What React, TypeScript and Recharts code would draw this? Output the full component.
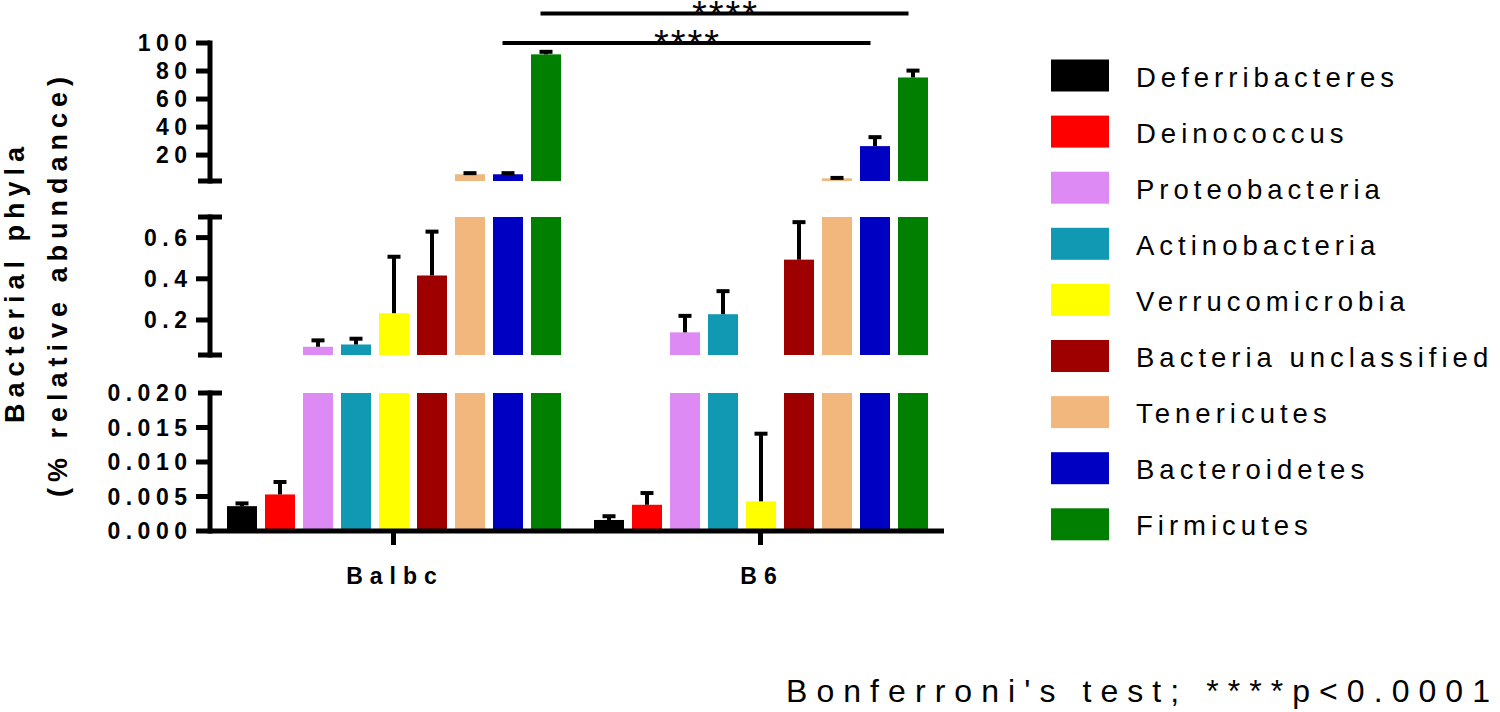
import React from 'react';
import { BarChart, Bar, XAxis, YAxis, ReferenceLine } from 'recharts';

// ---------- data ----------
const groups = ['Balbc', 'B6'];
const phyla = [
  'Deferribacteres',
  'Deinococcus',
  'Proteobacteria',
  'Actinobacteria',
  'Verrucomicrobia',
  'Bacteria unclassified',
  'Tenericutes',
  'Bacteroidetes',
  'Firmicutes',
];
const phylaColors = ['#000000', '#ff0000', '#de8af5', '#1199b3', '#ffff00', '#9e0000', '#f2b77d', '#0000c2', '#007f00'];

const balbcMean = [0.0036, 0.0053, 0.07, 0.081, 0.233, 0.416, 6.3, 6.3, 91.9];
const balbcSD = [0.0004, 0.0018, 0.031, 0.028, 0.274, 0.213, 0.8, 0.8, 1.8];
const b6Mean = [0.0016, 0.0038, 0.14, 0.228, 0.0043, 0.493, 3.4, 26.4, 75.4];
const b6SD = [0.00054, 0.0017, 0.08, 0.112, 0.0098, 0.182, 0.3, 6.4, 4.9];

const topDomain = [1.5, 100];
const topTicks = [1.5, 20, 40, 60, 80, 100];
const topUnlabeled = [1.5];
const topCaps = [1.5];

const midDomain = [0.03, 0.7];
const midTicks = [0.03, 0.2, 0.4, 0.6, 0.7];
const midUnlabeled = [0.03, 0.7];
const midCaps = [0.03, 0.7];

const lowDomain = [0, 0.02];
const lowTicks = [0, 0.005, 0.01, 0.015, 0.02];
const lowUnlabeled: number[] = [];
const lowCaps = [0.02];

const comparisons = [
  { phylum: 'Bacteroidetes', y: 100, label: '****' },
  { phylum: 'Firmicutes', y: 121, label: '****' },
];

const yTitle1 = 'Bacterial phyla';
const yTitle2 = '(% relative abundance)';
const footnote = "Bonferroni's test; ****p<0.0001";

// ---------- table ----------
const means = [balbcMean, b6Mean];
const sds = [balbcSD, b6SD];
const rows = groups.map((g, gi) => {
  const row: any = { group: g };
  phyla.forEach((p, i) => {
    row[p] = means[gi][i];
    row[p + '_sd'] = sds[gi][i];
  });
  return row;
});

// ---------- layout constants ----------
const W = 1500;
const LEFT = 150;
const YW = 60;
const RIGHT = 556;
const PLOT_H = 138;
const BAR_SIZE = 30;
const BAR_GAP = 8;
const FONT = '"Liberation Sans", Arial, Helvetica, sans-serif';

const makeShape = (key: string, base: number) => (props: any) => {
  const { x, y, width, height, fill, payload } = props;
  const value = payload[key];
  const sd = payload[key + '_sd'];
  const top = Math.min(y, y + height);
  const h = Math.abs(height);
  const cx = x + width / 2;
  let err: React.ReactNode = null;
  if (height > 0 && value > base && sd > 0) {
    const pxPerUnit = height / (value - base);
    const yTop = y - sd * pxPerUnit;
    err = (
      <g>
        <line x1={cx} x2={cx} y1={y} y2={yTop} stroke="#000" strokeWidth={4} />
        <line x1={cx - 6.5} x2={cx + 6.5} y1={yTop} y2={yTop} stroke="#000" strokeWidth={4} />
      </g>
    );
  }
  return (
    <g>
      <rect x={x} y={top} width={width} height={h} fill={fill} />
      {err}
    </g>
  );
};

const makeYTick = (caps: number[], unlabeled: number[], digits: number) => (props: any) => {
  const { x, y, payload } = props;
  const v = payload.value;
  const isCap = caps.some((c) => Math.abs(c - v) < 1e-9);
  const hasLabel = !unlabeled.some((c) => Math.abs(c - v) < 1e-9);
  const ls = 5.5;
  return (
    <g>
      <line x1={isCap ? x - 12 : x - 14} x2={isCap ? x + 12 : x} y1={y} y2={y} stroke="#000" strokeWidth={5} />
      {hasLabel && (
        <text
          x={x - 23 + ls}
          y={y + 8.2}
          textAnchor="end"
          fontFamily={FONT}
          fontWeight="bold"
          fontSize={23}
          letterSpacing={ls}
          fill="#000"
        >
          {v.toFixed(digits)}
        </text>
      )}
    </g>
  );
};

const XTick = (props: any) => {
  const { x, y, payload } = props;
  const ls = 7;
  return (
    <text
      x={x + ls / 2 - 2}
      y={y + 39}
      textAnchor="middle"
      fontFamily={FONT}
      fontWeight="bold"
      fontSize={23}
      letterSpacing={ls}
      fill="#000"
    >
      {payload.value}
    </text>
  );
};

const makeSigShape = (phylum: string, label: string) => (props: any) => {
  const idx = phyla.indexOf(phylum);
  const off = (idx - (phyla.length - 1) / 2) * (BAR_SIZE + BAR_GAP);
  const x1 = props.x1 + off - 5;
  const x2 = props.x2 + off - 4;
  const y = props.y1;
  const ls = 2;
  return (
    <g>
      <line x1={x1} x2={x2} y1={y} y2={y} stroke="#000" strokeWidth={4} />
      <text
        x={(x1 + x2) / 2 + ls / 2}
        y={y + 14}
        textAnchor="middle"
        fontFamily={FONT}
        fontSize={38}
        letterSpacing={ls}
        fill="#000"
      >
        {label}
      </text>
    </g>
  );
};

type PanelProps = {
  top: number;
  height: number;
  marginTop: number;
  domain: number[];
  ticks: number[];
  caps: number[];
  unlabeled: number[];
  digits: number;
  showX: boolean;
  withSig?: boolean;
};

const X_H = 60;

function Panel(p: PanelProps) {
  const bottomOffset = p.height - p.marginTop - PLOT_H;
  const base = p.domain[0] > 0 ? p.domain[0] : 0;
  return (
    <div style={{ position: 'absolute', left: 0, top: p.top, width: W, height: p.height, overflow: 'visible' }}>
      <BarChart
        width={W}
        height={p.height}
        data={rows}
        margin={{ top: p.marginTop, right: RIGHT, left: LEFT, bottom: p.showX ? bottomOffset - X_H : bottomOffset }}
        barGap={BAR_GAP}
        barCategoryGap={0}
        style={{ overflow: 'visible' }}
      >
        <XAxis
          dataKey="group"
          hide={!p.showX}
          height={p.showX ? X_H : 0}
          axisLine={{ stroke: '#000', strokeWidth: 5 }}
          tickLine={{ stroke: '#000', strokeWidth: 5 }}
          tickSize={14}
          tickMargin={0}
          tick={XTick}
          interval={0}
        />
        <YAxis
          type="number"
          domain={p.domain}
          ticks={p.ticks}
          allowDataOverflow
          width={YW}
          interval={0}
          tickSize={0}
          tickMargin={0}
          tickLine={false}
          axisLine={{ stroke: '#000', strokeWidth: 5, strokeLinecap: 'square' }}
          tick={makeYTick(p.caps, p.unlabeled, p.digits)}
        />
        {phyla.map((ph, i) => (
          <Bar
            key={ph}
            dataKey={ph}
            fill={phylaColors[i]}
            barSize={BAR_SIZE}
            isAnimationActive={false}
            shape={makeShape(ph, base)}
          />
        ))}
        {p.withSig &&
          comparisons.map((c) => (
            <ReferenceLine
              key={c.phylum}
              segment={[
                { x: groups[0], y: c.y },
                { x: groups[1], y: c.y },
              ]}
              ifOverflow="visible"
              shape={makeSigShape(c.phylum, c.label)}
            />
          ))}
      </BarChart>
    </div>
  );
}

function Overlay() {
  const legendTop = 75.5;
  const legendStep = 56.1;
  const ls = 5.0;
  return (
    <svg
      width={W}
      height={712}
      style={{ position: 'absolute', left: 0, top: 0, pointerEvents: 'none' }}
    >
      <text
        transform="translate(24,282) rotate(-90)"
        textAnchor="middle"
        fontFamily={FONT}
        fontWeight="bold"
        fontSize={27}
        letterSpacing={6}
        fill="#000"
      >
        {yTitle1}
      </text>
      <text
        transform="translate(67,284) rotate(-90)"
        textAnchor="middle"
        fontFamily={FONT}
        fontWeight="bold"
        fontSize={27}
        letterSpacing={6}
        fill="#000"
      >
        {yTitle2}
      </text>
      {phyla.map((ph, i) => {
        const cy = legendTop + i * legendStep;
        return (
          <g key={ph}>
            <rect x={1051} y={cy - 16} width={58} height={32} fill={phylaColors[i]} />
            <text x={1136} y={cy + 11} fontFamily={FONT} fontSize={27.5} letterSpacing={ls} fill="#000">
              {ph}
            </text>
          </g>
        );
      })}
      <text
        x={786}
        y={702}
        fontFamily={FONT}
        fontSize={32}
        textLength={704}
        lengthAdjust="spacing"
        fill="#000"
      >
        {footnote}
      </text>
    </svg>
  );
}

export default function App() {
  return (
    <div style={{ position: 'absolute', left: 0, top: 0, width: W, height: 712, background: '#fff', overflow: 'hidden' }}>
      <Panel top={0} height={200} marginTop={43} domain={topDomain} ticks={topTicks} caps={topCaps} unlabeled={topUnlabeled} digits={0} showX={false} withSig />
      <Panel top={200} height={175} marginTop={17} domain={midDomain} ticks={midTicks} caps={midCaps} unlabeled={midUnlabeled} digits={1} showX={false} />
      <Panel top={375} height={337} marginTop={18} domain={lowDomain} ticks={lowTicks} caps={lowCaps} unlabeled={lowUnlabeled} digits={3} showX />
      <Overlay />
    </div>
  );
}
